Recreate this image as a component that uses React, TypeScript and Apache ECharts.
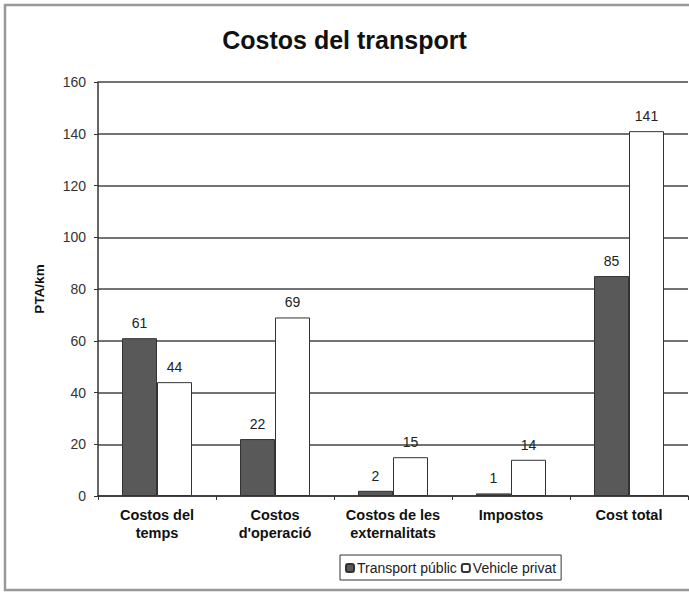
import React, { useEffect, useRef } from "react";
import * as echarts from "echarts";

const categories = ["Costos del\ntemps", "Costos\nd'operació", "Costos de les\nexternalitats", "Impostos", "Cost total"];
const transportPublic = [61, 22, 2, 1, 85];
const vehiclePrivat = [44, 69, 15, 14, 141];
const seriesNames = ["Transport públic", "Vehicle privat"];

export default function App() {
  const ref = useRef<HTMLDivElement>(null);
  useEffect(() => {
    const chart = echarts.init(ref.current!, null, { renderer: "svg" });
    const font = "Arial, 'Liberation Sans', sans-serif";
    chart.setOption({
      animation: false,
      backgroundColor: "#fff",
      title: {
        text: "Costos del transport",
        left: "center",
        top: 22,
        textStyle: { fontFamily: font, fontSize: 25, fontWeight: "bold", color: "#111" },
      },
      graphic: [
        {
          type: "rect",
          shape: { x: 5, y: 5, width: 690, height: 585 },
          style: { fill: "none", stroke: "#999", lineWidth: 2.5 },
          silent: true,
        },
      ],
      legend: {
        data: seriesNames,
        left: 340,
        top: 555,
        itemWidth: 8,
        itemHeight: 8,
        itemGap: 4,
        padding: [6, 5, 5, 5],
        borderColor: "#333",
        borderWidth: 1,
        textStyle: { fontFamily: font, fontSize: 14, color: "#222", padding: [0, 0, 0, -2] },
      },
      grid: { left: 98, right: 1, top: 82, bottom: 98, containLabel: false },
      xAxis: {
        type: "category",
        data: categories,
        axisLine: { lineStyle: { color: "#333", width: 1.5 } },
        axisTick: { show: true, length: 4, lineStyle: { color: "#333" } },
        axisLabel: {
          fontFamily: font,
          fontSize: 14.5,
          fontWeight: "bold",
          color: "#111",
          lineHeight: 18,
          margin: 10,
          interval: 0,
        },
      },
      yAxis: {
        type: "value",
        min: 0,
        max: 160,
        interval: 20,
        name: "PTA/km",
        nameLocation: "middle",
        nameGap: 52,
        nameTextStyle: { fontFamily: font, fontSize: 13.5, fontWeight: "bold", color: "#111" },
        axisLine: { show: true, lineStyle: { color: "#333", width: 1.5 } },
        axisTick: { show: true, length: 4, lineStyle: { color: "#333" } },
        axisLabel: { fontFamily: font, fontSize: 14, color: "#333", margin: 12 },
        splitLine: { lineStyle: { color: "#444", width: 1.5 } },
      },
      series: [
        {
          name: seriesNames[0],
          type: "bar",
          data: transportPublic,
          barWidth: 35,
          barGap: "0%",
          itemStyle: { color: "#595959", borderColor: "#333", borderWidth: 1 },
          label: { show: true, position: "top", distance: 8, fontFamily: font, fontSize: 14, color: "#222" },
        },
        {
          name: seriesNames[1],
          type: "bar",
          data: vehiclePrivat,
          barWidth: 35,
          barGap: "0%",
          itemStyle: { color: "#ffffff", borderColor: "#333", borderWidth: 1 },
          label: { show: true, position: "top", distance: 8, fontFamily: font, fontSize: 14, color: "#222" },
        },
      ],
    });
    return () => chart.dispose();
  }, []);
  return <div ref={ref} style={{ position: "fixed", left: 0, top: 0, width: 689, height: 594 }} />;
}
